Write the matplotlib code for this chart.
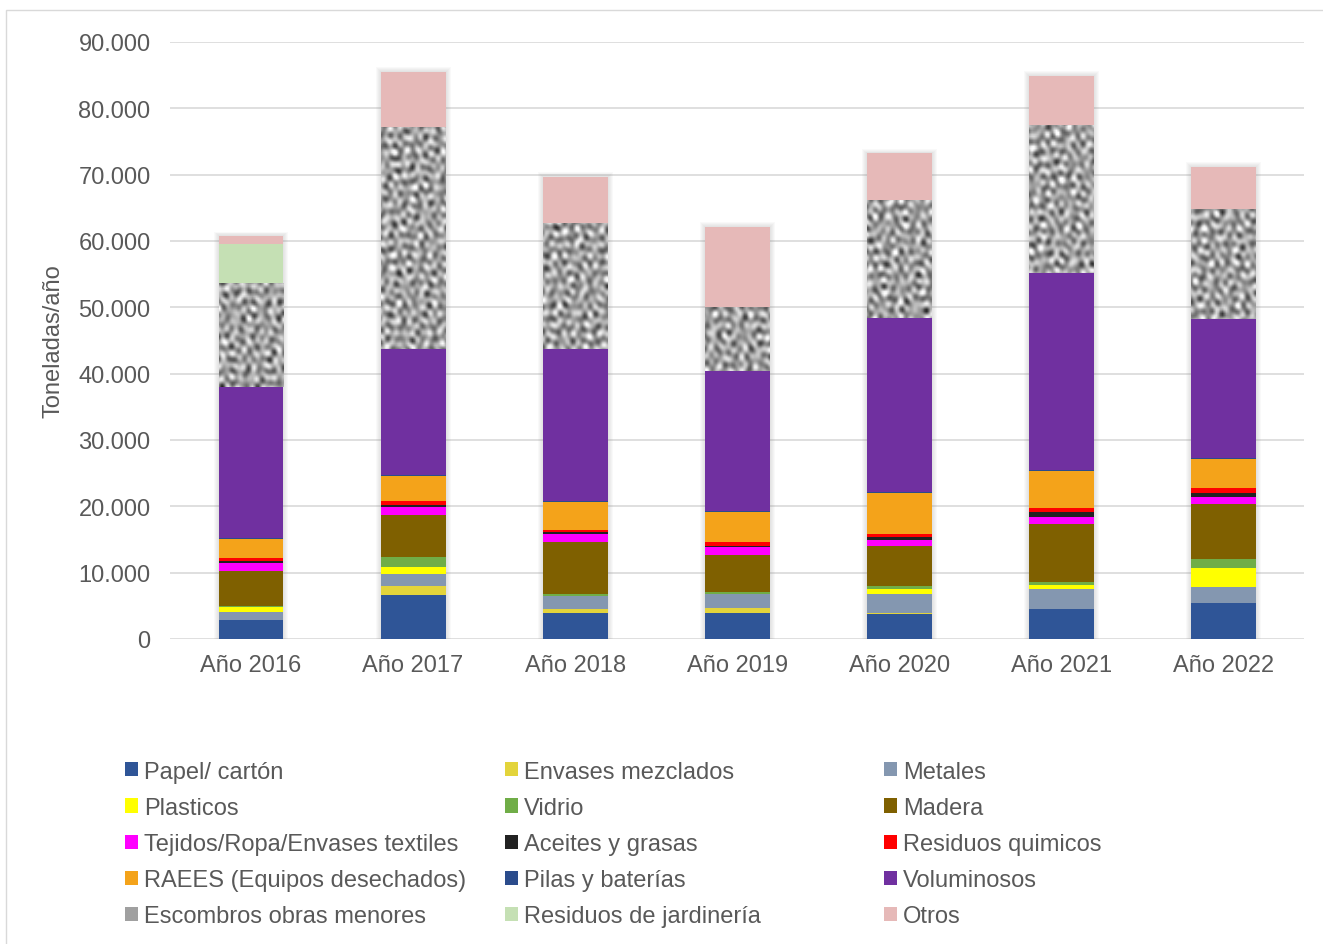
import matplotlib
matplotlib.use("Agg")
import matplotlib.pyplot as plt
from matplotlib.patches import Patch, Rectangle
import numpy as np

plt.rcParams['font.family'] = ['Liberation Sans', 'DejaVu Sans']

years = ["Año 2016", "Año 2017", "Año 2018", "Año 2019", "Año 2020", "Año 2021", "Año 2022"]

papel = [2900, 6630, 3920, 3920, 3820, 4470, 5480]
envases = [0, 1360, 600, 750, 150, 100, 0]
metales = [1160, 1810, 1960, 2060, 2810, 3020, 2410]
plasticos = [800, 1050, 0, 0, 750, 600, 2810]
vidrio = [150, 1510, 300, 350, 450, 400, 1360]
madera = [5280, 6330, 7790, 5580, 5980, 8750, 8290]
tejidos = [1200, 1210, 1260, 1200, 950, 1100, 1060]
aceites = [300, 300, 300, 150, 500, 750, 650]
quimicos = [400, 600, 300, 600, 450, 600, 700]
raees = [2875, 3820, 4270, 4570, 6180, 5580, 4420]
pilas = [150, 150, 150, 150, 150, 150, 150]
voluminosos = [22700, 18950, 22800, 21060, 26150, 29650, 20910]
escombros = [15700, 33460, 19100, 9650, 17790, 22310, 16580]
jardineria = [5900, 0, 0, 0, 0, 0, 0]
otros = [1200, 8300, 6900, 12060, 7080, 7390, 6330]

series = [
    ("Papel/ cartón", papel, "#2F5597"),
    ("Envases mezclados", envases, "#E3D43B"),
    ("Metales", metales, "#8497B0"),
    ("Plasticos", plasticos, "#FFFF00"),
    ("Vidrio", vidrio, "#70AD47"),
    ("Madera", madera, "#7F6000"),
    ("Tejidos/Ropa/Envases textiles", tejidos, "#FF00FF"),
    ("Aceites y grasas", aceites, "#222222"),
    ("Residuos quimicos", quimicos, "#FF0000"),
    ("RAEES (Equipos desechados)", raees, "#F4A31A"),
    ("Pilas y baterías", pilas, "#2B4C8C"),
    ("Voluminosos", voluminosos, "#7030A0"),
    ("Escombros obras menores", escombros, None),
    ("Residuos de jardinería", jardineria, "#C5E0B4"),
    ("Otros", otros, "#E6B9B8"),
]

fs = 17
txt = "#595959"

fig = plt.figure(figsize=(13.23, 9.45), dpi=100)
ax = fig.add_axes([0.1285, 0.3228, 0.8575, 0.6317])

x = np.arange(len(years))
width = 0.40
totals = np.sum([s[1] for s in series], axis=0)

# soft shadow behind each column
for k in range(1, 6):
    dx = k * 0.0062
    dy = k * 140
    ax.bar(x, totals + 2 * dy, bottom=-dy, width=width + 2 * dx,
           color="#7f7f7f", alpha=0.045, zorder=1, linewidth=0)

# granite-like texture for the rubble series: many short waves at spread angles
gx, gy = np.meshgrid(np.arange(560), np.arange(300))
tex = np.zeros(gx.shape)
angles = [0.13, 0.71, 1.29, 1.87, 2.45, 3.03, 0.42, 1.00, 1.58, 2.16, 2.74, 0.27, 1.44, 2.61]
freqs = [1.13, 1.34, 1.03, 1.25, 1.44, 0.94, 1.56, 0.85, 1.10, 1.32, 1.65, 0.74, 0.97, 1.20]
for a, f in zip(angles, freqs):
    tex += np.sin(f * (np.cos(a) * gx + np.sin(a) * gy) + 7.3 * a)

bottom = np.zeros(len(years))
handles = []
for name, vals, color in series:
    vals = np.array(vals, dtype=float)
    if color is None:
        bars = ax.bar(x, vals, width, bottom=bottom, color="#a8a8a8", linewidth=0, zorder=2)
        for b in bars:
            im = ax.imshow(tex, cmap="gray", vmin=-11, vmax=6.5, extent=(-0.5, 6.5, 0, 90000),
                           aspect="auto", interpolation="bilinear", zorder=2.5)
            im.set_clip_path(b)
        handles.append(Patch(facecolor="#a0a0a0", label=name))
    else:
        ax.bar(x, vals, width, bottom=bottom, color=color, linewidth=0, zorder=2)
        handles.append(Patch(facecolor=color, label=name))
    bottom += vals

ax.set_xlim(-0.5, 6.5)
ax.set_ylim(0, 90000)
ax.set_yticks(np.arange(0, 90001, 10000))
ax.set_yticklabels(["0"] + [f"{v // 1000}.000" for v in range(10000, 90001, 10000)])
ax.set_xticks(x)
ax.set_xticklabels(years)
ax.tick_params(axis="both", length=0, labelsize=fs, colors=txt)
ax.tick_params(axis="y", pad=14)
ax.tick_params(axis="x", pad=11)
ax.grid(axis="y", color="#d9d9d9", linewidth=1.2, zorder=0)
ax.set_axisbelow(True)
for sp in ax.spines.values():
    sp.set_visible(False)
ax.set_ylabel("Toneladas/año", fontsize=fs, color=txt, labelpad=10)

# legend laid out in three columns, filled row by row
col_x = [0.0945, 0.3815, 0.6685]
for c in range(3):
    leg = fig.legend(handles=handles[c::3], loc="upper left", bbox_to_anchor=(col_x[c], 0.194),
                     frameon=False, fontsize=fs, handlelength=0.55, handleheight=0.55,
                     handletextpad=0.25, labelspacing=0.60, borderaxespad=0, borderpad=0)
    for t in leg.get_texts():
        t.set_color(txt)

fig.patches.append(Rectangle((0.0045, -0.01), 1.0, 0.9988, transform=fig.transFigure,
                             fill=False, edgecolor="#d9d9d9", linewidth=1.0))

fig.savefig("out.png", dpi=100)
